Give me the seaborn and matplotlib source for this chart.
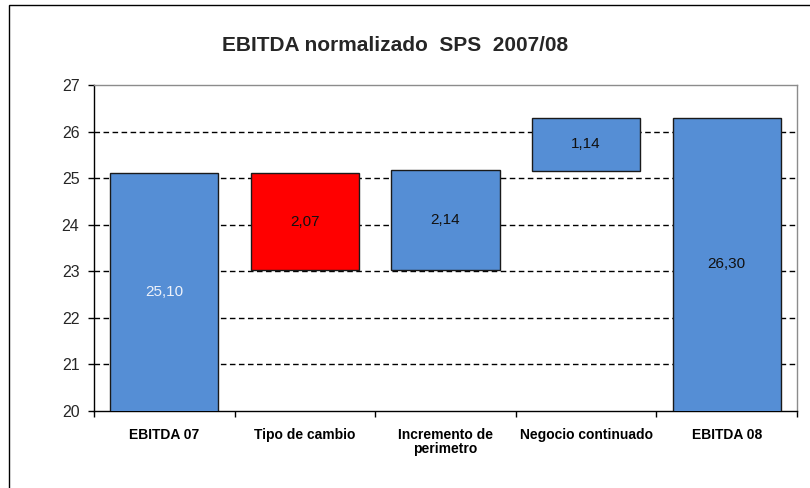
import numpy as np
import pandas as pd
import matplotlib
matplotlib.use("Agg")
import matplotlib.pyplot as plt
import seaborn as sns
from matplotlib.patches import Rectangle

# datos del grafico (waterfall)
categorias = ["EBITDA 07", "Tipo de cambio", "Incremento de\nperimetro", "Negocio continuado", "EBITDA 08"]
valores = [25.10, 2.07, 2.14, 1.14, 26.30]
bases = [0, 23.03, 23.03, 25.16, 0]
etiquetas = ["25,10", "2,07", "2,14", "1,14", "26,30"]
colores = ["#558ED5", "#FF0000", "#558ED5", "#558ED5", "#558ED5"]
color_etiqueta = ["#EEF2FA", "#111111", "#111111", "#111111", "#111111"]
yticks = [20, 21, 22, 23, 24, 25, 26, 27]

sns.set_style("white")
plt.rcParams["font.family"] = ["Liberation Sans", "DejaVu Sans"]

fig = plt.figure(figsize=(8.1, 4.88), dpi=100)
ax = fig.add_axes([94/810, 77/488, 703/810, 326/488])

sns.barplot(x=categorias, y=valores, bottom=bases, color=colores[0], width=0.77,
            edgecolor="#1a1a1a", linewidth=1, errorbar=None, ax=ax, zorder=3)
for p, c in zip(ax.patches, colores):
    p.set_facecolor(c)

ymin = yticks[0]
for i in range(len(valores)):
    # etiqueta centrada en la parte visible de la barra
    abajo = max(bases[i], ymin)
    arriba = bases[i] + valores[i]
    ax.text(i, (abajo + arriba) / 2, etiquetas[i], ha="center", va="center", fontsize=11,
            color=color_etiqueta[i], zorder=4)

ax.set_xlim(-0.5, 4.5)
ax.set_ylim(20, 27)
ax.set_yticks(yticks)
ax.set_xlabel("")
ax.set_ylabel("")

ax.grid(axis="y", color="black", linewidth=1, linestyle=(0, (4, 2.5)), zorder=1)
ax.set_axisbelow(True)
gl = ax.get_ygridlines()
gl[0].set_visible(False)
gl[-1].set_visible(False)

for s in ["left", "bottom"]:
    ax.spines[s].set_color("black")
    ax.spines[s].set_linewidth(1)
for s in ["top", "right"]:
    ax.spines[s].set_color("#8c8c8c")
    ax.spines[s].set_linewidth(1)
    ax.spines[s].set_visible(True)

ax.set_xticks(np.arange(-0.5, 5, 1), minor=True)
ax.tick_params(axis="x", which="major", length=0, pad=12, colors="black")
for t in ax.get_xticklabels():
    t.set_fontsize(10)
    t.set_fontweight("bold")
    t.set_linespacing(1.05)
ax.tick_params(axis="x", which="minor", length=4, width=1, direction="out", color="black")
ax.tick_params(axis="y", length=4, width=1, direction="out", color="black", pad=6.5, labelsize=11.5)
ax.yaxis.set_tick_params(left=True)
ax.xaxis.set_tick_params(bottom=True, which="both")

fig.text(0.488, 1 - 46/488, "EBITDA normalizado  SPS  2007/08", ha="center", va="center",
         fontsize=15, fontweight="bold")

fig.patches.append(Rectangle((9/810, -0.1), 1.0, 1 - 5/488 + 0.1, transform=fig.transFigure,
                             fill=False, edgecolor="black", linewidth=1))

fig.savefig("out.png", dpi=100)
